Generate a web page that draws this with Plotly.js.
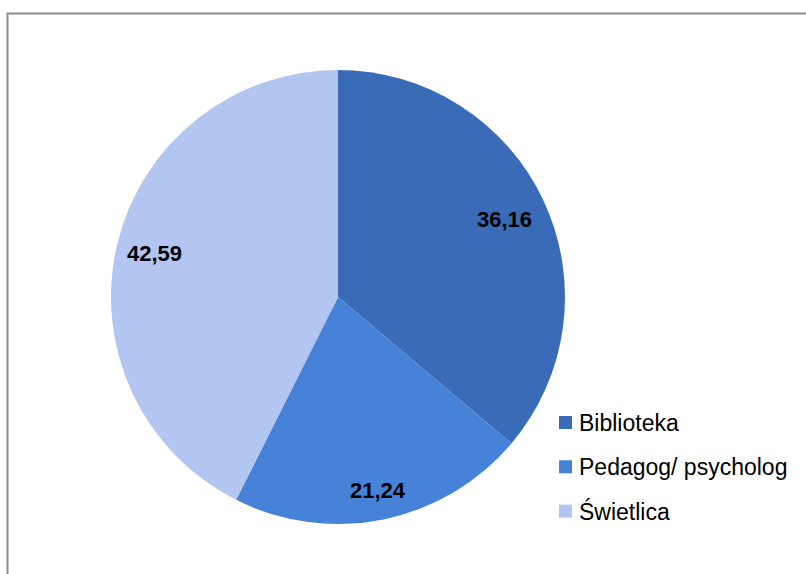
<!DOCTYPE html>
<html>
<head>
<meta charset="utf-8">
<script src="https://cdn.plot.ly/plotly-3.0.1.min.js"></script>
<style>html,body{margin:0;padding:0;background:#fff;}#chart{width:806px;height:574px;}</style>
</head>
<body>
<div id="chart"></div>
<script>
const categories = ["Biblioteka", "Pedagog/ psycholog", "Świetlica"];
const values = [36.16, 21.24, 42.59];
const colors = ["#3A6BB7", "#4682D8", "#B3C6F2"];
const labelRadius = [0.81, 0.87, 0.83];

const W = 806, H = 574;
const cx = 338, cy = 297, r = 227;
const FONT = "Liberation Sans, Arial, sans-serif";

const trace = {
  type: "pie",
  labels: categories,
  values: values,
  sort: false,
  direction: "clockwise",
  rotation: 0,
  marker: {colors: colors, line: {width: 0}},
  textinfo: "none",
  hoverinfo: "label+value",
  showlegend: false,
  domain: {x: [(cx - r) / W, (cx + r) / W], y: [1 - (cy + r) / H, 1 - (cy - r) / H]}
};

// data labels placed at each slice's mid-angle
const total = values.reduce((a, b) => a + b, 0);
let cum = 0;
const annotations = values.map((v, i) => {
  const mid = (cum + v / 2) / total * 2 * Math.PI;
  cum += v;
  const rr = r * labelRadius[i];
  const px = cx + rr * Math.sin(mid);
  const py = cy - rr * Math.cos(mid);
  return {
    xref: "paper", yref: "paper", x: px / W, y: 1 - py / H,
    xanchor: "center", yanchor: "middle", showarrow: false,
    text: v.toFixed(2).replace(".", ","),
    font: {family: FONT, size: 22, color: "#000000", weight: "bold"}
  };
});

// legend (drawn as shapes + text, Excel-like spacing)
const legX = 559, legSq = 13, legY0 = 422.5, legStep = 44.3;
const shapes = [{
  type: "rect", xref: "paper", yref: "paper",
  x0: 7.5 / W, x1: 1.05, y0: -0.05, y1: 1 - 13.5 / H,
  line: {color: "#8c8c8c", width: 2}, fillcolor: "rgba(0,0,0,0)", layer: "above"
}];
categories.forEach((c, i) => {
  const yc = legY0 + i * legStep;
  shapes.push({
    type: "rect", xref: "paper", yref: "paper",
    x0: legX / W, x1: (legX + legSq) / W,
    y0: 1 - (yc + legSq / 2) / H, y1: 1 - (yc - legSq / 2) / H,
    line: {width: 0}, fillcolor: colors[i]
  });
  annotations.push({
    xref: "paper", yref: "paper", x: (legX + legSq + 5) / W, y: 1 - yc / H,
    xanchor: "left", yanchor: "middle", showarrow: false,
    text: c,
    font: {family: FONT, size: 23, color: "#000000"}
  });
});

const layout = {
  width: W, height: H,
  margin: {l: 0, r: 0, t: 0, b: 0},
  paper_bgcolor: "#ffffff",
  separators: ",.",
  showlegend: false,
  annotations: annotations,
  shapes: shapes
};

Plotly.newPlot("chart", [trace], layout, {displayModeBar: false});
</script>
</body>
</html>
